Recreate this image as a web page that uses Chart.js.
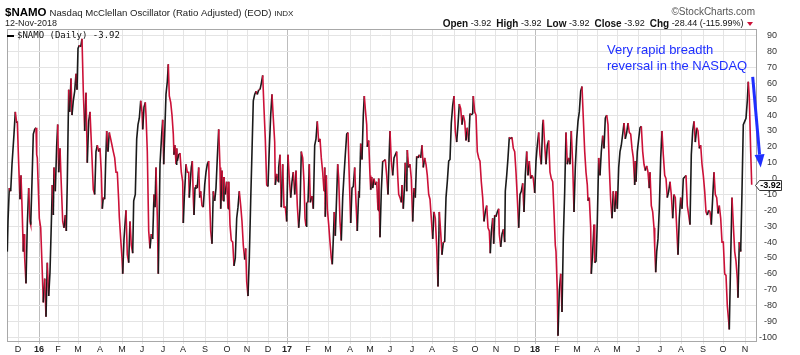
<!DOCTYPE html>
<html><head><meta charset="utf-8">
<script src="https://cdn.jsdelivr.net/npm/chart.js@4/dist/chart.umd.min.js"></script>
<style>html,body{margin:0;padding:0;background:#fff}#wrap{width:800px;height:355px}</style>
</head><body><div id="wrap"><canvas id="c" width="800" height="355"></canvas></div>
<script>
// trading-day index (from mid-Nov 2015) of each read point
const days = [
0.3,1.0,2.3,3.7,5.0,7.0,8.3,9.7,10.3,11.7,
13.0,14.0,15.0,16.3,17.0,17.7,19.0,20.3,21.7,23.0,
23.7,25.0,26.3,27.7,29.0,29.7,30.3,32.3,33.7,35.0,
36.3,37.7,39.0,40.3,41.7,43.0,44.3,45.3,46.3,47.0,
48.3,49.7,50.7,51.7,53.0,54.0,55.7,57.0,58.3,59.3,
60.3,61.7,62.7,64.0,65.0,66.3,67.7,69.0,70.0,71.0,
72.3,73.7,75.0,76.3,77.7,79.0,80.3,81.7,83.0,85.0,
86.3,87.7,89.0,90.3,91.7,93.0,94.3,95.3,96.3,97.7,
98.7,99.7,101.0,102.3,103.7,105.0,106.3,107.7,109.0,110.3,
111.7,112.3,113.7,115.0,115.7,117.0,119.0,120.3,121.7,123.0,
124.3,125.7,126.7,128.3,129.7,131.0,132.3,133.7,135.0,135.7,
137.0,138.3,139.0,140.3,141.7,
143.0,144.3,145.7,147.0,148.0,149.0,150.3,151.3,153.0,154.7,
155.7,156.7,157.7,159.0,160.3,161.3,162.3,163.7,165.0,166.3,
167.0,168.0,169.0,169.7,170.3,171.7,173.0,174.3,175.7,176.3,
177.3,178.3,179.0,180.3,181.7,182.3,183.3,184.3,185.3,186.3,
187.0,188.0,189.0,190.3,191.7,192.7,193.7,195.0,196.3,197.7,
199.0,200.3,201.7,202.3,203.7,205.0,206.3,207.7,209.0,210.3,
211.7,213.0,213.7,215.0,216.0,217.0,218.3,219.7,221.0,221.7,
223.0,224.3,225.7,227.0,228.3,229.7,231.0,232.3,233.7,235.0,
236.3,237.7,238.7,239.7,241.0,242.3,243.7,245.0,246.3,247.7,
249.0,250.3,251.7,253.0,254.3,255.7,257.0,258.3,259.7,261.0,
262.3,263.7,265.0,266.3,267.7,268.3,269.7,271.0,271.7,273.0,
274.3,275.7,277.0,278.3,279.7,281.0,282.3,283.7,285.0,286.3,
287.7,289.0,290.3,291.7,293.0,
294.3,295.7,297.0,298.0,299.0,299.7,301.0,302.3,303.3,305.0,
306.3,307.7,309.0,310.3,311.7,313.0,314.3,315.7,317.0,317.7,
318.3,319.3,320.3,321.7,323.0,324.3,325.3,326.3,327.3,328.3,
329.7,330.7,331.7,333.0,334.3,335.7,337.0,338.3,339.7,341.0,
342.3,343.7,345.0,346.3,347.7,349.0,350.3,351.7,352.3,353.7,
355.0,356.3,357.3,358.3,359.7,360.3,361.7,363.0,363.7,364.7,
365.7,367.0,368.3,369.7,371.0,371.7,373.0,374.3,375.7,377.0,
378.3,379.7,381.0,382.3,383.0,384.3,385.7,387.0,388.3,389.7,
390.7,391.7,393.0,394.3,395.0,396.3,397.7,398.3,399.7,400.3,
401.7,403.0,404.3,405.7,407.0,408.3,409.7,411.0,412.3,413.7,
415.0,416.3,417.7,419.0,420.3,421.7,423.0,424.3,425.7,427.0,
428.3,429.7,431.0,432.3,433.7,435.0,436.3,437.7,439.0,440.3,
441.7,443.0,
444.3,445.7,447.0,448.3,449.7,451.0,452.3,453.7,455.0,456.3,
457.7,459.0,460.3,461.7,463.0,464.3,465.7,466.3,467.7,469.0,
470.3,471.7,473.0,474.3,475.7,477.0,478.3,479.7,481.0,482.3,
483.3,484.3,485.7,486.7,487.7,489.0,490.3,491.7,492.3,493.7,
495.0,496.3,497.7,498.3,499.7,501.0,502.3,503.7,505.0,506.3,
507.7,509.0,510.3,511.7,513.0,514.3,515.7,517.0,518.3,519.7,
521.0,522.3,523.7,525.0,526.3,527.7,529.0,530.3,531.7,533.0,
534.3,535.7,536.3,537.7,539.0,540.3,541.7,543.0,544.3,545.7,
547.0,548.3,549.0,550.3,551.0,552.3,553.7,555.0,556.3,557.7,
559.0,560.3,561.7,563.0,564.3,565.7,567.0,568.3,569.7,571.0,
572.3,573.7,575.0,576.3,577.7,579.0,580.3,581.0,582.3,583.7,
584.3,585.7,587.0,587.7,589.0,590.3,591.7,593.0,594.3,
595.7,597.0,598.3,599.7,601.0,602.3,603.7,605.0,606.3,607.7,
609.0,610.3,611.7,613.0,614.3,615.7,617.0,618.3,619.7,621.0,
622.3,623.7,625.0,626.3,627.7,628.3,629.0,630.3,631.7,633.0,
634.3,635.7,637.0,638.3,639.7,641.0,642.3,643.0,644.3,645.7,
647.0,647.7,648.7,649.7,651.0,652.3,653.7,655.0,656.3,657.7,
659.0,660.3,661.7,663.0,664.3,665.7,667.0,668.3,669.7,671.0,
672.3,673.7,675.0,676.3,677.7,679.0,680.3,681.7,683.0,684.3,
685.7,687.0,688.3,689.7,691.0,692.3,693.7,695.0,696.3,697.7,
699.0,700.3,701.7,703.0,704.3,705.7,707.0,708.3,709.7,711.0,
712.3,713.7,715.0,716.3,717.7,719.0,720.3,721.7,722.3,723.7,
725.0,726.3,727.7,729.0,730.3,731.0,732.3,733.7,735.0,736.3,
737.7,739.0,740.3,741.3,742.3,743.7,744.7
];
// $NAMO values
const namo = [
-46,-27,-6,-8,9,28,42,35,36,9,
-13,2,-17,-46,-35,-50,-66,-29,-6,-27,
-29,-2,28,31,32,15,13,-25,-31,-54,
-78,-63,-87,-53,-74,-59,-29,-4,-23,7,
-8,21,34,4,19,1,-27,-31,-23,-33,
-2,56,42,63,40,49,55,66,56,82,
84,83,88,55,30,54,10,36,42,13,
-7,-10,17,21,17,19,4,-19,-12,-13,
11,30,17,29,25,21,17,13,4,4,
-14,-24,-38,-50,-60,-38,-20,-48,-53,-27,
-42,-47,-14,-10,25,34,38,49,42,31,
45,48,40,17,-33,
-44,-35,-38,-10,-18,7,-24,-60,9,28,
37,9,28,53,61,72,52,48,40,28,
15,21,9,19,11,15,16,4,-2,-28,
-12,0,9,4,4,-12,-2,7,11,-12,
-23,-6,-4,-6,7,-12,-8,-17,-18,-4,
4,9,11,-8,-33,-41,-8,-14,-6,13,
31,7,-19,5,-14,1,-10,-2,-19,-2,
-29,-39,-40,-55,-50,-25,-18,-8,-17,-27,
-42,-51,-44,-65,-74,-50,-14,17,49,53,
55,53,56,56,60,65,44,25,-4,-5,
19,40,53,38,23,-4,3,-2,7,15,
-18,9,-18,-18,-27,15,0,-12,-2,4,
-10,5,-17,-31,-19,
17,13,-2,-25,-30,-15,-15,9,-15,-11,
-19,21,25,36,23,25,13,4,-8,7,
-24,2,-19,-29,-40,-50,-54,-38,-21,-36,
-10,9,0,-27,-39,-12,2,15,28,29,
0,-28,-6,-5,7,-15,-33,-8,-12,22,
12,40,52,44,34,20,24,2,-7,1,
-6,0,-4,-2,-20,0,-37,-8,11,11,
12,2,-10,17,30,11,2,13,15,17,
2,-10,-12,-15,-4,-19,-2,10,-8,18,
7,9,0,-27,-6,-12,14,13,15,13,
21,7,13,9,2,-10,-13,-25,-38,-21,
-25,-43,-68,-21,-34,-48,-40,-40,-12,-2,
11,12,
35,46,52,30,23,34,47,44,34,40,
36,24,32,23,41,40,41,52,42,40,
17,13,11,-2,-12,-27,-21,-17,-31,-33,
-47,-34,-25,-41,-23,-24,-21,-19,-35,-43,
-35,-32,-40,-8,2,13,26,25,26,19,
17,4,-12,-31,-10,-8,-3,-21,2,17,
2,11,0,2,0,-9,11,21,29,15,
9,34,37,21,9,21,24,4,0,-2,
-21,-42,-46,-71,-99,-71,-60,-84,-38,-8,
29,9,13,9,30,9,-21,7,25,36,
42,55,58,38,17,4,-4,-14,-12,-31,
-60,-46,-29,-53,-52,-27,13,2,17,
27,19,38,40,34,7,-14,-25,-8,-21,
-8,-19,7,17,21,28,35,25,29,35,
29,28,19,13,-4,11,-2,17,25,32,
33,17,9,5,8,4,-6,4,-17,-21,
-31,-43,-59,-46,-38,-19,13,30,15,2,
0,-12,-8,-2,-10,-25,-10,-12,-31,-48,
-25,-12,-19,0,1,2,-17,-23,-29,15,
30,36,23,32,30,19,21,9,2,-8,
-21,-23,-20,-21,-29,-12,4,-10,-12,-22,
-17,-25,-40,-40,-60,-61,-80,-90,-95,-50,
-12,-29,-46,-52,-63,-75,-40,-46,-8,34,
36,38,49,61,51,17,-3.92
];
// month starts (trading-day index) and their labels
const monthTicks = [11,32,51,71,93,115,135,156,176,198,220,240,261,280,301,321,343,363,383,405,425,448,468,489,510,528,550,570,590,610,631,653,674,696,716,738];
const monthLabels = ['D','16','F','M','A','M','J','J','A','S','O','N','D','17','F','M','A','M','J','J','A','S','O','N','D','18','F','M','A','M','J','J','A','S','O','N'];
const yTicks = [90,80,70,60,50,40,30,20,10,0,-10,-20,-30,-40,-50,-60,-70,-80,-90,-100];
const lastValue = -3.92;
const arrowFrom = 64, arrowTo = 7;   // annotation arrow, in oscillator units
const isYear = l => /^\d+$/.test(l);

const FONT = '"Liberation Sans", Arial, sans-serif';
const RED = '#cc1138', BLACK = '#1a1a1a';

const overlay = {
  id: 'overlay',
  beforeDatasetsDraw(chart) {
    const {ctx, chartArea: a} = chart;
    ctx.save();
    ctx.strokeStyle = '#a8a8a8'; ctx.lineWidth = 1;
    ctx.strokeRect(Math.round(a.left) + 0.5, Math.round(a.top) + 0.5, Math.round(a.right - a.left), Math.round(a.bottom - a.top));
    ctx.restore();
  },
  afterDraw(chart) {
    const {ctx, chartArea: a, scales: {x, y}} = chart;
    ctx.save();
    ctx.textBaseline = 'middle';
    // title row
    ctx.fillStyle = '#000';
    ctx.font = 'bold 11.5px ' + FONT; ctx.textAlign = 'left';
    ctx.fillText('$NAMO', 5, 13);
    let w = ctx.measureText('$NAMO').width;
    ctx.font = '9.6px ' + FONT; ctx.fillStyle = '#222';
    const t2 = 'Nasdaq McClellan Oscillator (Ratio Adjusted) (EOD)';
    ctx.fillText(t2, 5 + w + 3, 13);
    let w2 = ctx.measureText(t2).width;
    ctx.font = '8px ' + FONT;
    ctx.fillText('INDX', 5 + w + 3 + w2 + 3, 13.5);
    ctx.font = '9px ' + FONT; ctx.fillStyle = '#222';
    ctx.fillText('12-Nov-2018', 5, 24);
    // watermark
    ctx.font = '10px ' + FONT; ctx.fillStyle = '#555'; ctx.textAlign = 'right';
    ctx.fillText('\u00A9StockCharts.com', 755, 12);
    // OHLC row
    const segs = [['Open','b'],[' -3.92  ','n'],['High','b'],[' -3.92  ','n'],['Low','b'],[' -3.92  ','n'],['Close','b'],[' -3.92  ','n'],['Chg','b'],[' -28.44 (-115.99%) ','n']];
    const fb = 'bold 10px ' + FONT, fn = '9px ' + FONT;
    let tot = 0;
    segs.forEach(s => { ctx.font = s[1] === 'b' ? fb : fn; tot += ctx.measureText(s[0]).width; });
    let cx = 746 - tot;
    ctx.textAlign = 'left'; ctx.fillStyle = '#111';
    segs.forEach(s => { ctx.font = s[1] === 'b' ? fb : fn; ctx.fillText(s[0], cx, 24); cx += ctx.measureText(s[0]).width; });
    ctx.fillStyle = RED;
    ctx.beginPath(); ctx.moveTo(cx + 1, 22); ctx.lineTo(cx + 7, 22); ctx.lineTo(cx + 4, 26); ctx.closePath(); ctx.fill();
    // legend
    ctx.strokeStyle = '#000'; ctx.lineWidth = 2;
    ctx.beginPath(); ctx.moveTo(a.left, 36); ctx.lineTo(a.left + 7, 36); ctx.stroke();
    ctx.font = '9px "DejaVu Sans Mono", monospace'; ctx.fillStyle = '#111';
    ctx.fillText('$NAMO (Daily) ' + lastValue.toFixed(2), a.left + 10, 36);
    // annotation text
    ctx.font = '13px ' + FONT; ctx.fillStyle = '#1f2fff';
    ctx.fillText('Very rapid breadth', 607, 50);
    ctx.fillText('reversal in the NASDAQ', 607, 66);
    // arrow
    const lastDay = days[days.length - 1];
    const ax0 = x.getPixelForValue(lastDay) + 1, ay0 = y.getPixelForValue(arrowFrom);
    const ax1 = ax0 + 8, ay1 = y.getPixelForValue(arrowTo);
    const ang = Math.atan2(ay1 - ay0, ax1 - ax0);
    const hl = 13, hw = 5;
    const bx = ax1 - hl * Math.cos(ang), by = ay1 - hl * Math.sin(ang);
    ctx.strokeStyle = '#1f2fff'; ctx.lineWidth = 3; ctx.lineCap = 'butt';
    ctx.beginPath(); ctx.moveTo(ax0, ay0); ctx.lineTo(bx, by); ctx.stroke();
    ctx.fillStyle = '#1f2fff';
    ctx.beginPath();
    ctx.moveTo(ax1, ay1);
    ctx.lineTo(bx + hw * Math.sin(ang), by - hw * Math.cos(ang));
    ctx.lineTo(bx - hw * Math.sin(ang), by + hw * Math.cos(ang));
    ctx.closePath(); ctx.fill();
    // last value tag
    const ty = Math.round(y.getPixelForValue(lastValue)) + 0.5;
    const tx = Math.round(a.right) + 0.5;
    ctx.beginPath();
    ctx.moveTo(tx - 1, ty); ctx.lineTo(tx + 3, ty - 5); ctx.lineTo(tx + 25, ty - 5);
    ctx.lineTo(tx + 25, ty + 5); ctx.lineTo(tx + 3, ty + 5); ctx.closePath();
    ctx.fillStyle = '#fff'; ctx.fill();
    ctx.strokeStyle = '#333'; ctx.lineWidth = 1; ctx.stroke();
    ctx.font = 'bold 9px ' + FONT; ctx.fillStyle = '#000'; ctx.textAlign = 'center';
    ctx.fillText(lastValue.toFixed(2), tx + 14, ty + 0.5);
    ctx.restore();
  }
};

new Chart(document.getElementById('c'), {
  type: 'line',
  data: {
    datasets: [{
      data: days.map((d, i) => ({x: d, y: namo[i]})),
      borderColor: RED,
      borderWidth: 1.6,
      pointRadius: 0,
      tension: 0,
      segment: { borderColor: c => c.p1.parsed.y > c.p0.parsed.y ? BLACK : RED }
    }]
  },
  options: {
    responsive: false,
    animation: false,
    devicePixelRatio: 1,
    layout: { padding: { left: 7, top: 29, right: 23, bottom: 0 } },
    plugins: { legend: { display: false }, tooltip: { enabled: false } },
    scales: {
      x: {
        type: 'linear', min: 0, max: 749,
        afterBuildTicks: s => { s.ticks = monthTicks.map(v => ({value: v})); },
        afterFit: s => { s.height = 14; },
        border: { display: false },
        grid: {
          color: c => (c.tick && isYear(monthLabels[monthTicks.indexOf(c.tick.value)] || '')) ? '#bdbdbd' : '#e4e4e4',
          lineWidth: 1, drawTicks: true, tickLength: 3
        },
        ticks: {
          autoSkip: false, maxRotation: 0, padding: 0, color: '#222',
          font: c => ({ family: FONT, size: 9, weight: isYear(monthLabels[c.index] || '') ? 'bold' : 'normal' }),
          callback: (v, i) => monthLabels[i]
        }
      },
      y: {
        position: 'right', min: -102.3, max: 94.2,
        afterBuildTicks: s => { s.ticks = yTicks.map(v => ({value: v})); },
        afterFit: s => { s.width = 21; },
        border: { display: false },
        grid: { color: '#e4e4e4', drawTicks: false },
        ticks: { crossAlign: 'far', color: '#333', font: { family: FONT, size: 9 }, callback: v => String(v) }
      }
    }
  },
  plugins: [overlay]
});
</script>
</body></html>
